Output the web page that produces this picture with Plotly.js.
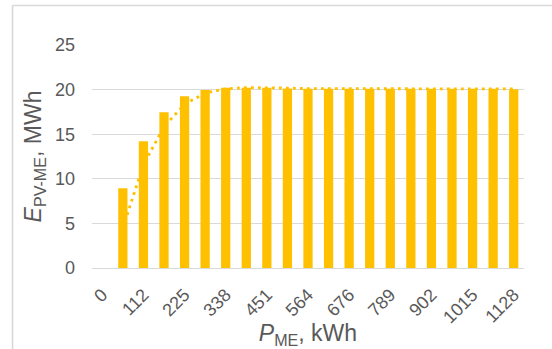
<!DOCTYPE html>
<html>
<head>
<meta charset="utf-8">
<script src="https://cdn.plot.ly/plotly-3.0.1.min.js"></script>
<style>html,body{margin:0;padding:0;background:#fff;}#chart{width:552px;height:349px;}</style>
</head>
<body>
<div id="chart"></div>
<script>
// P_ME categories (kWh)
const categories = ["0","56","112","169","225","282","338","394","451","507","564","620","676","733","789","846","902","958","1015","1071","1128"];
// E_PV-ME values (MWh)
const energy = [0, 8.94, 14.22, 17.46, 19.25, 19.96, 20.22, 20.22, 20.22, 20.12, 20.1, 20.1, 20.1, 20.1, 20.1, 20.1, 20.1, 20.1, 20.1, 20.1, 20.05];
const yTicks = [0, 5, 10, 15, 20, 25];

// 2-period moving average trendline (as in the original spreadsheet chart)
const maX = [], maY = [];
for (let i = 1; i < energy.length; i++) {
  maX.push(categories[i]);
  maY.push((energy[i - 1] + energy[i]) / 2);
}

const gold = "#FFC000";
const txt = "#595959";
const grid = "#D9D9D9";

const traces = [
  {
    type: "bar", x: categories, y: energy,
    marker: {color: gold}, hoverinfo: "x+y", showlegend: false
  },
  {
    type: "scatter", mode: "lines", x: maX, y: maY,
    line: {color: gold, width: 2.8, dash: "2.8px,4.2px"},
    showlegend: false, hoverinfo: "skip"
  }
];

const layout = {
  width: 552, height: 349,
  margin: {l: 92, r: 28, t: 45, b: 81, pad: 0},
  paper_bgcolor: "#fff", plot_bgcolor: "#fff",
  font: {family: "Liberation Sans, Arial, sans-serif", color: txt, size: 18},
  bargap: 0.55,
  xaxis: {
    type: "category",
    categoryorder: "array", categoryarray: categories,
    tickmode: "linear", tick0: 0, dtick: 2,
    tickangle: -45,
    tickfont: {size: 18, color: txt},
    ticklabelstandoff: 8,
    showgrid: false, zeroline: false,
    showline: true, linecolor: grid, linewidth: 1.3,
    ticks: "",
    title: {text: "<i>P</i><sub>ME</sub>, kWh", font: {size: 23, color: txt}, standoff: 2},
    automargin: false, fixedrange: true
  },
  yaxis: {
    range: [0, 25], tickvals: yTicks, ticktext: yTicks.map(String),
    tickfont: {size: 18, color: txt},
    ticklabelstandoff: 16,
    showgrid: true, gridcolor: grid, gridwidth: 1.3,
    zeroline: false, showline: false, ticks: "",
    title: {text: "<i>E</i><sub>PV-ME</sub>, MWh", font: {size: 23, color: txt}, standoff: 6},
    automargin: false, fixedrange: true
  },
  shapes: [{
    type: "rect", xref: "paper", yref: "paper",
    x0: -0.184, x1: 1.3, y0: -0.6, y1: 1.177,
    line: {color: "#D9D9D9", width: 1.6}, fillcolor: "rgba(0,0,0,0)", layer: "below"
  }]
};

Plotly.newPlot("chart", traces, layout, {staticPlot: true, displayModeBar: false});
</script>
</body>
</html>
